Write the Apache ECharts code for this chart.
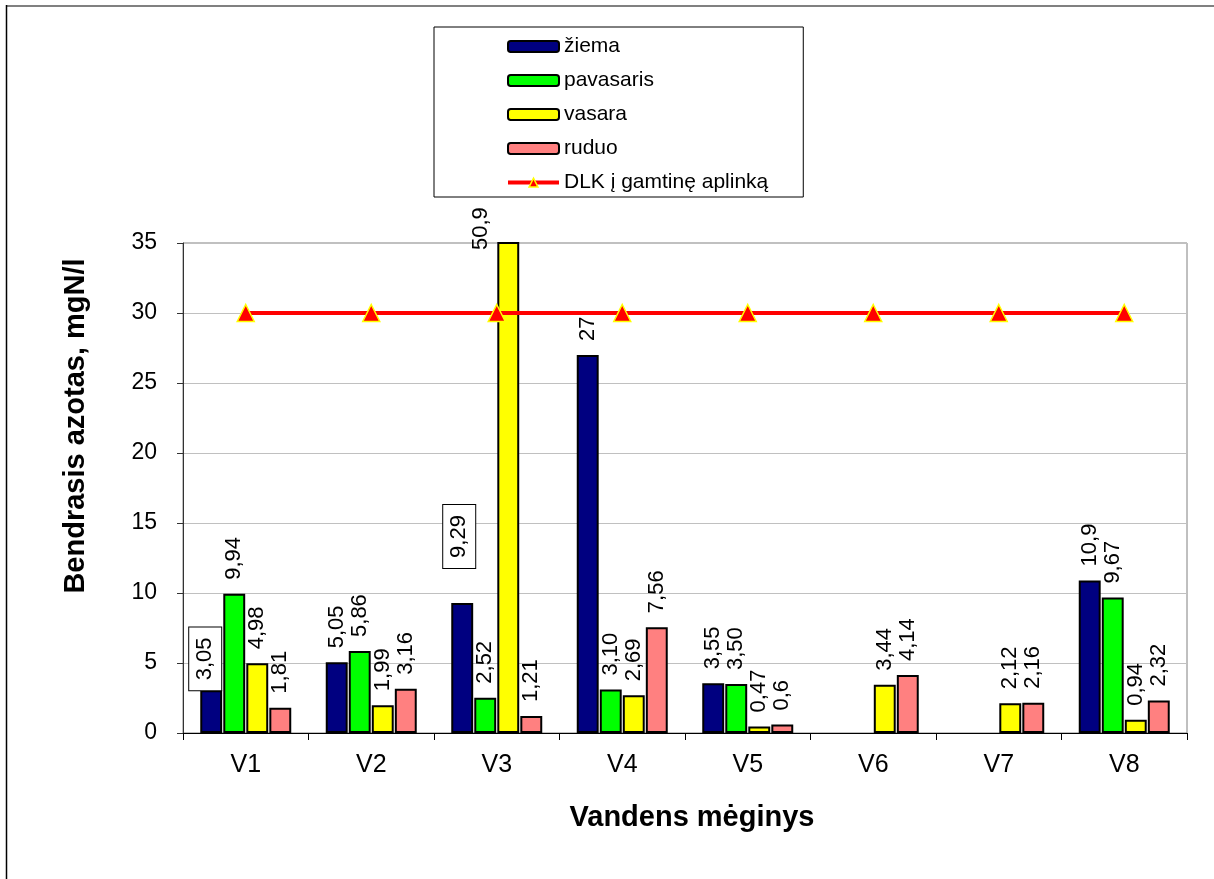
<!DOCTYPE html>
<html><head><meta charset="utf-8">
<script src="https://cdn.jsdelivr.net/npm/echarts@6/dist/echarts.min.js"></script>
<style>html,body{margin:0;padding:0;background:#fff}#c{width:1214px;height:879px}</style>
</head><body><div id="c"></div>
<script>
// ---- data ----
const categories = ['V1','V2','V3','V4','V5','V6','V7','V8'];
const ziema     = ['3.05','5.05','9.29','27','3.55',null,null,'10.9'];
const pavasaris = ['9.94','5.86','2.52','3.10','3.50',null,null,'9.67'];
const vasara    = ['4.98','1.99','50.9','2.69','0.47','3.44','2.12','0.94'];
const ruduo     = ['1.81','3.16','1.21','7.56','0.6','4.14','2.16','2.32'];
const dlk       = [30,30,30,30,30,30,30,30];
const seriesNames = ['žiema','pavasaris','vasara','ruduo','DLK į gamtinę aplinką'];
const yMin = 0, yMax = 35, yInterval = 5;

// ---- styling ----
const FONT = '"Liberation Sans", Arial, sans-serif';
const colors = ['#000080','#00ff00','#ffff00','#ff8080'];
const boxStyle = {borderColor:'#000', borderWidth:1, backgroundColor:'#fff', padding:[5,10,5,10]};
const labelOverrides = {
  '0-0': Object.assign({distance:0, offset:[0,-6]}, boxStyle),
  '0-2': Object.assign({distance:35, offset:[0,-3]}, boxStyle),
  '2-2': {distance:0, offset:[-8,-27]}
};

function makeBar(arr, si) {
  return {
    name: seriesNames[si],
    type: 'bar',
    barGap: '5%',
    barCategoryGap: '27.5%',
    itemStyle: {color: colors[si], borderColor:'#000', borderWidth:2},
    label: {
      show: true, position: 'top', distance: 14, rotate: 90,
      align: 'left', verticalAlign: 'middle',
      fontFamily: FONT, fontSize: 22, color: '#000',
      formatter: p => arr[p.dataIndex] == null ? '' : arr[p.dataIndex].replace('.', ',')
    },
    data: arr.map((v, i) => {
      const o = {value: v == null ? null : Number(v)};
      const ov = labelOverrides[si + '-' + i];
      if (ov) o.label = ov;
      return o;
    })
  };
}

const chart = echarts.init(document.getElementById('c'), null, {renderer:'canvas'});
chart.setOption({
  animation: false,
  backgroundColor: '#fff',
  textStyle: {fontFamily: FONT},
  legend: {
    orient: 'vertical', left: 434, top: 27,
    padding: [9, 35, 4, 72], itemGap: 13,
    itemWidth: 51, itemHeight: 11,
    borderColor: '#000', borderWidth: 1, backgroundColor: '#fff',
    textStyle: {fontFamily: FONT, fontSize: 21, color: '#000'},
    data: seriesNames.slice(0, 4).concat([{name: seriesNames[4], itemStyle: {borderWidth: 1.5}, lineStyle: {width: 4}}])
  },
  grid: {left: 183, right: 27, top: 243, bottom: 146, show: true, borderColor: '#808080', borderWidth: 1},
  xAxis: {
    type: 'category', data: categories,
    axisLine: {lineStyle: {color: '#000', width: 1}},
    axisTick: {show: true, length: 7, lineStyle: {color: '#000'}},
    axisLabel: {fontFamily: FONT, fontSize: 25, color: '#000', margin: 20},
    name: 'Vandens mėginys', nameLocation: 'middle', nameGap: 70,
    nameTextStyle: {fontFamily: FONT, fontSize: 29, fontWeight: 'bold', color: '#000', padding: [0,0,0,14]}
  },
  yAxis: {
    type: 'value', min: yMin, max: yMax, interval: yInterval,
    axisLine: {show: true, lineStyle: {color: '#333', width: 1}},
    axisTick: {show: true, length: 6, lineStyle: {color: '#333'}},
    axisLabel: {fontFamily: FONT, fontSize: 23, color: '#000', margin: 26},
    splitLine: {lineStyle: {color: '#c0c0c0', width: 1}},
    name: 'Bendrasis azotas, mgN/l', nameLocation: 'middle', nameGap: 93, nameRotate: 90,
    nameTextStyle: {fontFamily: FONT, fontSize: 29, fontWeight: 'bold', color: '#000', padding: [0,0,0,124]}
  },
  series: [
    makeBar(ziema, 0), makeBar(pavasaris, 1), makeBar(vasara, 2), makeBar(ruduo, 3),
    {
      name: seriesNames[4], type: 'line', data: dlk, z: 5,
      lineStyle: {color: '#ff0000', width: 4},
      symbol: 'triangle', symbolSize: 17,
      itemStyle: {color: '#ff0000', borderColor: '#ffff00', borderWidth: 1.5}
    }
  ],
  graphic: [
    {type: 'line', shape: {x1: 6, y1: 6, x2: 1214, y2: 6}, style: {stroke: '#808080', lineWidth: 2}, silent: true},
    {type: 'line', shape: {x1: 6.5, y1: 5, x2: 6.5, y2: 879}, style: {stroke: '#000', lineWidth: 1.5}, silent: true}
  ]
});
</script></body></html>
